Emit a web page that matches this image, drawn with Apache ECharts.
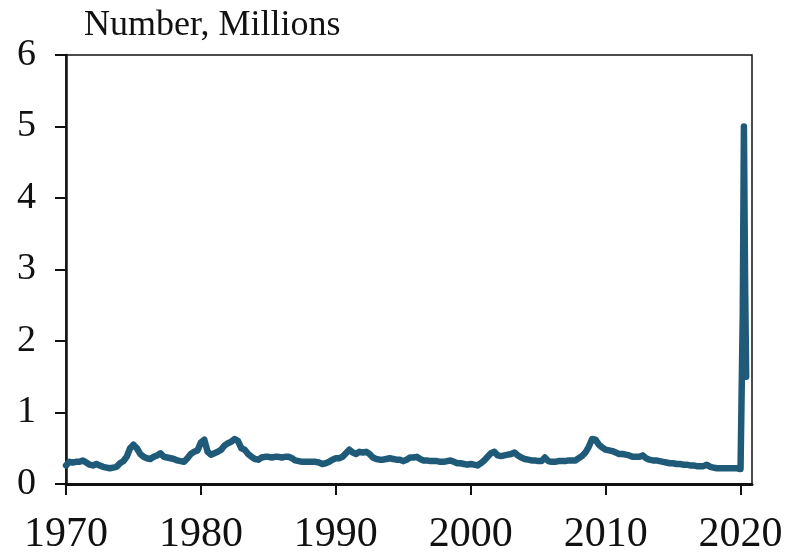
<!DOCTYPE html>
<html>
<head>
<meta charset="utf-8">
<script src="https://cdn.jsdelivr.net/npm/echarts@6/dist/echarts.min.js"></script>
<style>
  html, body { margin: 0; padding: 0; background: #fff; }
  #chart { width: 798px; height: 556px; }
</style>
</head>
<body>
<div id="chart"></div>
<script>
// 数据：季度值（百万），1970Q1 起
var startYear = 1970
var claims1970s = [0.26, 0.31, 0.30, 0.31, 0.31, 0.33, 0.30, 0.27, 0.26, 0.28, 0.26, 0.24,
  0.23, 0.22, 0.23, 0.24, 0.29, 0.32, 0.38, 0.50, 0.55, 0.50, 0.42, 0.38,
  0.36, 0.35, 0.38, 0.40, 0.43, 0.38, 0.37, 0.36, 0.35, 0.33, 0.32, 0.31,
  0.36, 0.42, 0.45, 0.47]
var claims1980s = [0.58, 0.62, 0.45, 0.41, 0.43, 0.45, 0.48, 0.54, 0.57, 0.59, 0.63, 0.60,
  0.50, 0.48, 0.42, 0.38, 0.35, 0.34, 0.37, 0.38, 0.38, 0.37, 0.38, 0.38,
  0.37, 0.38, 0.38, 0.36, 0.33, 0.32, 0.31, 0.31, 0.31, 0.31, 0.31, 0.30,
  0.28, 0.29, 0.31, 0.34]
var claims1990s = [0.36, 0.36, 0.38, 0.43, 0.48, 0.44, 0.42, 0.45, 0.44, 0.45, 0.42, 0.37,
  0.35, 0.34, 0.34, 0.35, 0.36, 0.35, 0.34, 0.34, 0.32, 0.34, 0.37, 0.37,
  0.38, 0.35, 0.33, 0.33, 0.32, 0.32, 0.32, 0.31, 0.31, 0.32, 0.33, 0.31,
  0.29, 0.29, 0.28, 0.27]
var claims2000s = [0.28, 0.27, 0.26, 0.29, 0.33, 0.38, 0.43, 0.45, 0.40, 0.39, 0.40, 0.41,
  0.42, 0.44, 0.40, 0.37, 0.35, 0.34, 0.33, 0.33, 0.32, 0.32, 0.37, 0.32,
  0.31, 0.31, 0.32, 0.32, 0.32, 0.33, 0.33, 0.33, 0.36, 0.39, 0.44, 0.52,
  0.63, 0.62, 0.55, 0.51]
var claims2010s = [0.48, 0.47, 0.46, 0.44, 0.42, 0.42, 0.41, 0.40, 0.38, 0.38, 0.38, 0.40,
  0.36, 0.34, 0.33, 0.33, 0.32, 0.31, 0.30, 0.29, 0.29, 0.28, 0.28, 0.27,
  0.27, 0.26, 0.26, 0.25, 0.25, 0.25, 0.27, 0.24, 0.23, 0.22, 0.22, 0.22,
  0.22, 0.22, 0.22, 0.22]
// 2020 年按月
var months2020 = [1, 2, 3, 4, 5, 6]
var claims2020 = [0.21, 0.21, 2.4, 5.0, 2.9, 1.5]

var xTicks = [1970, 1980, 1990, 2000, 2010, 2020]
var yTicks = [0, 1, 2, 3, 4, 5, 6]

var quarterly = [].concat(claims1970s, claims1980s, claims1990s, claims2000s, claims2010s)
var seriesData = quarterly.map(function (v, i) {
  return [startYear + i / 4, v]
})
months2020.forEach(function (m, i) {
  seriesData.push([2020 + (m - 1) / 12, claims2020[i]])
})

var font = '"Liberation Serif", "DejaVu Serif", serif'

var option = {
  animation: false,
  backgroundColor: '#fff',
  title: {
    text: 'Number, Millions',
    left: 79,
    top: 3,
    textStyle: {
      fontFamily: font,
      fontSize: 36,
      fontWeight: 'normal',
      color: '#111'
    }
  },
  grid: {
    left: 66,
    right: 46,
    top: 55,
    bottom: 63,
    show: true,
    borderColor: '#111',
    borderWidth: 1.5
  },
  xAxis: {
    type: 'value',
    min: 1970,
    max: 2020.85,
    interval: 10,
    splitLine: { show: false },
    axisLine: { lineStyle: { color: '#111', width: 3 } },
    axisTick: {
      customValues: xTicks,
      length: 11,
      lineStyle: { color: '#111', width: 2 }
    },
    axisLabel: {
      customValues: xTicks,
      formatter: function (v) { return String(v) },
      margin: 30,
      fontFamily: font,
      fontSize: 42,
      color: '#111'
    }
  },
  yAxis: {
    type: 'value',
    min: 0,
    max: 6,
    interval: 1,
    splitLine: { show: false },
    axisLine: { show: true, lineStyle: { color: '#111', width: 2.5 } },
    axisTick: {
      show: true,
      length: 11,
      lineStyle: { color: '#111', width: 2 }
    },
    axisLabel: {
      customValues: yTicks,
      margin: 30,
      fontFamily: font,
      fontSize: 38,
      color: '#111'
    }
  },
  series: [
    {
      type: 'line',
      data: seriesData,
      showSymbol: false,
      smooth: false,
      lineStyle: {
        color: '#1f5b78',
        width: 6.5,
        cap: 'round',
        join: 'round'
      }
    }
  ]
}

var chart = echarts.init(document.getElementById('chart'))
chart.setOption(option, true)
</script>
</body>
</html>
